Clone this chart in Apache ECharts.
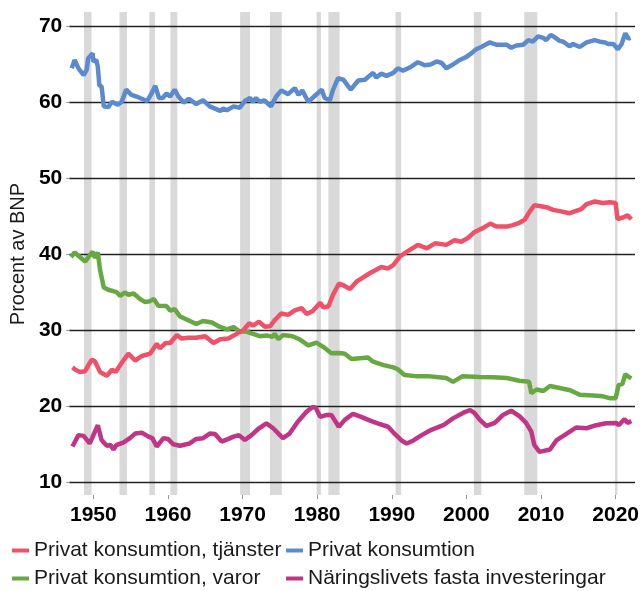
<!DOCTYPE html>
<html>
<head>
<meta charset="utf-8">
<script src="https://cdn.jsdelivr.net/npm/echarts@6/dist/echarts.min.js"></script>
<style>
    html, body { margin: 0; padding: 0; background: #fff; }
    #chart { width: 642px; height: 591px; }
</style>
</head>
<body>
<div id="chart"></div>
<script>
// andel av BNP, [år, procent]
var totalPoints = [
    [1947.1, 64.4], [1947.5, 65.5], [1948.0, 64.4], [1948.7, 63.5], [1949.1, 64.2], [1949.3, 65.7], [1949.9, 66.4],
    [1950.0, 65.3], [1950.4, 65.5], [1950.6, 64.6], [1950.8, 62.2], [1951.1, 62.0], [1951.4, 59.4], [1952.0, 59.3],
    [1952.5, 60.0], [1953.3, 59.6], [1953.8, 60.0], [1954.4, 61.6], [1955.1, 60.9], [1956.0, 60.6], [1957.2, 60.1],
    [1957.7, 60.9], [1958.3, 62.1], [1958.8, 60.5], [1959.3, 60.5], [1959.8, 61.1], [1960.3, 60.7], [1960.9, 61.6],
    [1961.4, 60.7], [1962.1, 59.9], [1962.8, 60.4], [1963.8, 59.7], [1964.7, 60.2], [1965.6, 59.4], [1967.0, 58.8],
    [1967.4, 59.1], [1967.9, 58.9], [1968.8, 59.4], [1969.6, 59.2], [1970.3, 60.1], [1971.0, 60.5], [1971.4, 60.0],
    [1971.8, 60.5], [1972.3, 60.0], [1972.9, 60.2], [1973.8, 59.4], [1974.5, 60.7], [1975.2, 61.5], [1976.1, 61.0],
    [1977.0, 61.8], [1977.5, 60.9], [1978.0, 61.5], [1978.8, 60.0], [1979.7, 60.8], [1980.6, 61.6], [1981.0, 60.5],
    [1981.7, 60.2], [1982.1, 61.5], [1982.8, 63.1], [1983.5, 62.9], [1984.5, 61.6], [1985.5, 62.8], [1986.4, 62.9],
    [1987.1, 63.5], [1987.5, 63.8], [1987.9, 63.2], [1988.6, 63.7], [1989.3, 63.4], [1990.2, 63.8], [1990.8, 64.4],
    [1991.5, 64.1], [1992.4, 64.5], [1993.5, 65.2], [1994.4, 64.8], [1995.2, 64.9], [1996.0, 65.3], [1996.7, 65.1],
    [1997.3, 64.4], [1998.2, 64.9], [1999.1, 65.5], [2000.0, 65.9], [2000.7, 66.4], [2001.3, 66.9], [2002.0, 67.2],
    [2003.1, 67.8], [2004.0, 67.5], [2005.4, 67.5], [2006.0, 67.1], [2006.7, 67.4], [2007.6, 67.5], [2008.3, 68.1],
    [2008.9, 67.9], [2009.6, 68.6], [2010.3, 68.4], [2010.7, 68.1], [2011.3, 68.8], [2011.8, 68.5], [2012.5, 68.0],
    [2013.0, 67.9], [2013.8, 67.3], [2014.3, 67.6], [2015.2, 67.2], [2016.1, 67.8], [2017.2, 68.1], [2017.9, 67.9],
    [2018.6, 67.8], [2019.0, 67.6], [2019.7, 67.6], [2020.3, 66.9], [2020.8, 67.6], [2021.3, 69.0], [2021.7, 68.3],
    [2022.0, 68.4]
];
var servicesPoints = [
    [1947.2, 25.1], [1947.6, 24.8], [1948.2, 24.5], [1948.9, 24.6], [1949.4, 25.5], [1949.8, 26.1], [1950.2, 25.9],
    [1950.9, 24.5], [1951.8, 24.0], [1952.5, 24.8], [1953.0, 24.5], [1953.8, 25.7], [1954.7, 26.9], [1955.6, 26.0],
    [1956.5, 26.6], [1957.6, 26.9], [1958.5, 28.2], [1958.9, 27.6], [1959.7, 28.3], [1960.3, 28.3], [1961.2, 29.35],
    [1961.8, 28.9], [1962.7, 29.0], [1963.8, 29.0], [1965.0, 29.2], [1966.1, 28.3], [1967.0, 28.8], [1968.1, 28.9],
    [1969.2, 29.5], [1970.1, 30.0], [1970.9, 30.9], [1971.4, 30.6], [1972.2, 31.1], [1973.0, 30.45], [1973.7, 30.5],
    [1974.3, 31.3], [1975.2, 32.2], [1976.1, 32.0], [1977.0, 32.6], [1977.9, 32.9], [1978.6, 32.1], [1979.4, 32.5],
    [1980.4, 33.6], [1980.8, 33.0], [1981.5, 33.1], [1982.1, 34.6], [1982.9, 36.1], [1983.5, 35.9], [1984.4, 35.4],
    [1985.3, 36.4], [1987.1, 37.5], [1988.6, 38.3], [1989.5, 38.1], [1990.2, 38.55], [1991.1, 39.7], [1992.2, 40.4],
    [1993.5, 41.2], [1994.7, 40.75], [1995.8, 41.4], [1997.3, 41.2], [1998.4, 41.8], [1999.3, 41.6], [2000.2, 42.1],
    [2001.1, 42.9], [2002.2, 43.4], [2003.2, 44.0], [2004.0, 43.6], [2005.4, 43.6], [2006.2, 43.8], [2007.1, 44.1],
    [2007.8, 44.5], [2008.5, 45.6], [2009.1, 46.4], [2009.8, 46.3], [2010.9, 46.1], [2011.6, 45.8], [2012.7, 45.6],
    [2013.8, 45.35], [2014.5, 45.6], [2015.4, 45.9], [2016.1, 46.55], [2017.2, 46.9], [2018.3, 46.7], [2019.2, 46.8],
    [2020.0, 46.7], [2020.25, 44.6], [2020.5, 44.7], [2021.0, 44.8], [2021.6, 45.1], [2022.1, 44.55]
];
var goodsPoints = [
    [1947.0, 39.6], [1947.5, 40.2], [1948.2, 39.6], [1948.9, 39.0], [1949.5, 39.8], [1949.9, 40.3], [1950.2, 39.5],
    [1950.6, 40.2], [1950.9, 37.9], [1951.4, 35.6], [1952.0, 35.3], [1953.1, 35.0], [1953.6, 34.5], [1954.2, 34.95],
    [1954.7, 34.65], [1955.4, 34.8], [1956.3, 34.05], [1956.9, 33.7], [1957.6, 33.8], [1958.1, 34.1], [1958.7, 33.2],
    [1959.8, 33.15], [1960.3, 32.55], [1960.9, 32.75], [1961.6, 31.8], [1962.5, 31.4], [1963.8, 30.8], [1964.7, 31.2],
    [1965.9, 31.0], [1966.9, 30.45], [1967.9, 30.1], [1968.8, 30.4], [1969.6, 29.8], [1970.5, 29.8], [1971.4, 29.5],
    [1972.3, 29.2], [1973.2, 29.3], [1974.0, 29.1], [1974.3, 29.5], [1974.8, 28.8], [1975.4, 29.35], [1976.7, 29.2],
    [1977.6, 28.8], [1978.8, 28.0], [1979.9, 28.35], [1980.8, 27.8], [1981.9, 26.95], [1983.0, 27.0], [1983.7, 26.9],
    [1984.6, 26.2], [1985.7, 26.3], [1986.8, 26.4], [1987.5, 25.85], [1988.9, 25.4], [1990.2, 25.1], [1990.8, 24.85],
    [1991.7, 24.1], [1993.2, 23.95], [1994.8, 23.95], [1996.3, 23.8], [1997.3, 23.7], [1998.2, 23.2], [1999.5, 23.95],
    [2001.8, 23.85], [2003.6, 23.8], [2005.4, 23.7], [2007.1, 23.35], [2008.4, 23.2], [2008.7, 21.7], [2009.4, 22.2],
    [2010.3, 22.0], [2011.2, 22.65], [2012.5, 22.4], [2013.9, 22.1], [2015.2, 21.5], [2017.0, 21.4], [2018.3, 21.3],
    [2019.2, 21.05], [2020.0, 21.05], [2020.4, 22.8], [2020.9, 22.9], [2021.3, 24.2], [2021.6, 23.95], [2022.1, 23.65]
];
var investPoints = [
    [1947.2, 14.7], [1948.0, 16.2], [1948.7, 16.1], [1949.5, 15.1], [1949.9, 15.95], [1950.6, 17.5], [1951.1, 15.55],
    [1951.8, 14.8], [1952.3, 14.9], [1952.7, 14.3], [1953.1, 14.9], [1954.0, 15.2], [1954.9, 15.8], [1955.6, 16.4],
    [1956.5, 16.5], [1957.4, 16.0], [1957.9, 15.8], [1958.5, 14.7], [1959.4, 15.8], [1960.0, 15.7], [1960.7, 15.0],
    [1961.6, 14.8], [1962.9, 15.1], [1963.8, 15.7], [1964.7, 15.8], [1965.6, 16.4], [1966.3, 16.35], [1967.2, 15.35],
    [1968.1, 15.7], [1968.8, 16.0], [1969.5, 16.2], [1970.3, 15.55], [1971.2, 16.2], [1972.2, 17.1], [1973.2, 17.75],
    [1974.1, 17.1], [1975.4, 15.8], [1976.3, 16.4], [1977.4, 17.95], [1978.6, 19.3], [1979.4, 19.9], [1979.8, 19.8],
    [1980.4, 18.6], [1981.3, 18.85], [1981.9, 18.85], [1982.9, 17.3], [1983.7, 18.2], [1984.8, 19.0], [1985.9, 18.6],
    [1987.1, 18.1], [1988.2, 17.7], [1989.5, 17.3], [1990.4, 16.35], [1991.3, 15.5], [1992.0, 15.1], [1992.9, 15.5],
    [1994.0, 16.2], [1995.3, 16.9], [1996.9, 17.5], [1998.2, 18.4], [1999.6, 19.15], [2000.5, 19.5], [2001.1, 19.1],
    [2001.8, 18.2], [2002.7, 17.4], [2003.8, 17.8], [2004.9, 18.85], [2006.0, 19.4], [2007.1, 18.7], [2008.0, 17.8],
    [2008.7, 16.65], [2009.1, 14.9], [2009.8, 14.0], [2011.2, 14.3], [2012.1, 15.55], [2013.4, 16.35], [2014.7, 17.2],
    [2016.1, 17.1], [2017.4, 17.5], [2018.7, 17.75], [2020.1, 17.8], [2020.4, 17.5], [2021.2, 18.3], [2021.6, 17.8],
    [2022.1, 18.05]
];
// lågkonjunkturer, [start, slut]
var recessions = [
    [1948.75, 1949.75], [1953.5, 1954.5], [1957.5, 1958.25], [1960.33, 1961.25], [1969.67, 1971.0],
    [1973.67, 1975.25], [1979.92, 1980.5], [1981.5, 1983.0], [1990.5, 1991.25], [2001.0, 2002.0],
    [2007.75, 2009.5], [2019.92, 2020.25]
];
var yearTicks = [1950, 1960, 1970, 1980, 1990, 2000, 2010, 2020];

var names = {
    services: 'Privat konsumtion, tjänster',
    total: 'Privat konsumtion',
    goods: 'Privat konsumtion, varor',
    invest: 'Näringslivets fasta investeringar'
};

var font = '"Liberation Sans", Arial, sans-serif',
    xMin = 1946.2, xMax = 2022.55, yMin = 8.33, yMax = 71.8;

var lineSeries = function (name, data, color) {
    return {
        name: name,
        type: 'line',
        xAxisIndex: 0,
        yAxisIndex: 0,
        data: data,
        color: color,
        symbol: 'none',
        z: 2,
        lineStyle: {width: 4.5, color: color}
    };
};

// en legend per post, så att kolumnerna hamnar rätt
var legendItem = function (name, left, top) {
    return {
        data: [name],
        left: left,
        top: top,
        padding: 0,
        icon: 'rect',
        itemWidth: 17,
        itemHeight: 4,
        textStyle: {fontSize: 21, color: '#1a1a1a', fontFamily: font}
    };
};

var chart = echarts.init(document.getElementById('chart'));
chart.setOption({
    animation: false,
    grid: [
        {left: 65, right: 7, top: 12, bottom: 96},
        {left: 65, right: 7, top: 26, bottom: 109}
    ],
    xAxis: [
        {
            gridIndex: 0, type: 'value', min: xMin, max: xMax,
            splitLine: {show: false},
            axisLine: {show: false},
            axisTick: {show: true, length: 4, customValues: yearTicks, lineStyle: {color: '#999'}},
            axisLabel: {
                customValues: yearTicks, margin: 10, fontSize: 21, fontWeight: 'bold',
                color: '#000', fontFamily: font,
                formatter: function (v) {
                    return String(v);
                }
            }
        },
        {gridIndex: 1, type: 'value', min: xMin, max: xMax, show: false}
    ],
    yAxis: [
        {gridIndex: 0, type: 'value', min: yMin, max: yMax, show: false},
        {
            gridIndex: 1, type: 'value', min: 10, max: 70, interval: 10, z: 1,
            name: 'Procent av BNP',
            nameLocation: 'middle',
            nameGap: 40,
            nameTextStyle: {fontSize: 20, color: '#1a1a1a', fontFamily: font},
            axisLine: {show: false},
            axisTick: {show: true, length: 3, lineStyle: {color: '#999'}},
            axisLabel: {margin: 7, fontSize: 21, fontWeight: 'bold', color: '#000', fontFamily: font},
            splitLine: {lineStyle: {color: '#222', width: 1.3}}
        }
    ],
    legend: [
        legendItem(names.services, 12, 540),
        legendItem(names.total, 286, 540),
        legendItem(names.goods, 12, 568),
        legendItem(names.invest, 286, 568)
    ],
    series: [
        {
            type: 'custom',
            xAxisIndex: 0,
            yAxisIndex: 0,
            z: 0,
            silent: true,
            data: recessions,
            renderItem: function (params, api) {
                var p0 = api.coord([api.value(0), yMax]),
                    p1 = api.coord([api.value(1), yMin]);
                return {
                    type: 'rect',
                    shape: {x: p0[0], y: p0[1], width: p1[0] - p0[0], height: p1[1] - p0[1]},
                    style: {fill: '#d9d9d9'}
                };
            }
        },
        lineSeries(names.invest, investPoints, '#C03585'),
        lineSeries(names.goods, goodsPoints, '#67A843'),
        lineSeries(names.services, servicesPoints, '#EF5168'),
        lineSeries(names.total, totalPoints, '#5B8BCD')
    ]
});
</script>
</body>
</html>
